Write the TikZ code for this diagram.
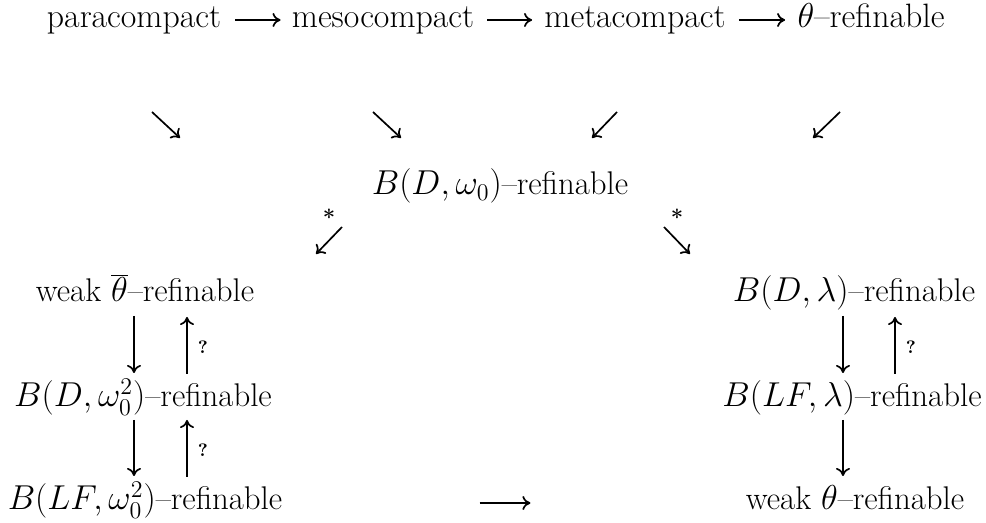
\documentclass[tikz,border=0pt]{standalone}
\usetikzlibrary{arrows.meta}
\tikzset{
  lbl/.style={anchor=base, inner sep=0pt, font=\fontsize{16.4}{20}\selectfont},
  toplbl/.style={anchor=base, inner sep=0pt, font=\fontsize{16.9}{20}\selectfont},
  arr/.style={-{Computer Modern Rightarrow[length=4pt,width=7pt]}, line width=0.85pt},
  note/.style={inner sep=0pt, font=\fontsize{9}{10}\selectfont\bfseries},
  starnote/.style={inner sep=0pt, font=\fontsize{11}{12}\selectfont\bfseries}
}
\begin{document}
\begin{tikzpicture}[x=0.5pt,y=-0.5pt]
\useasboundingbox (0,0) rectangle (986,523);
% top row
\node[toplbl] (para)  at (134,28) {paracompact};
\node[toplbl] (meso)  at (383,28) {mesocompact};
\node[toplbl] (meta)  at (635,28) {metacompact};
\node[toplbl] (theta) at (871,28) {$\theta$--refinable};
\draw[arr] ([shift={(14,-8)}]para.base east) -- ([shift={(-11,-8)}]meso.base west);
\draw[arr] ([shift={(13,-8)}]meso.base east) -- ([shift={(-12,-8)}]meta.base west);
\draw[arr] ([shift={(13,-8)}]meta.base east) -- ([shift={(-12,-8)}]theta.base west);
% middle
\node[lbl] (bdw) at (500,195) {$B(D,\omega_0)$--refinable};
\coordinate (d1s) at (152,112); \coordinate (d1e) at (180,138);
\coordinate (d2s) at (373,112); \coordinate (d2e) at (401,138);
\coordinate (d3s) at (617,112); \coordinate (d3e) at (592,138);
\coordinate (d4s) at (840,112); \coordinate (d4e) at (813,138);
\draw[arr] (d1s) -- (d1e);
\draw[arr] (d2s) -- (d2e);
\draw[arr] (d3s) -- (d3e);
\draw[arr] (d4s) -- (d4e);
% starred arrows
\coordinate (s1s) at (342,227); \coordinate (s1e) at (316,254);
\coordinate (s2s) at (664,227); \coordinate (s2e) at (690,254);
\draw[arr] (s1s) -- (s1e);
\draw[arr] (s2s) -- (s2e);
\node[starnote] (st1) at (329,217) {*};
\node[starnote] (st2) at (677,217) {*};
% left column
\node[lbl] (wtb)  at (145,302) {weak $\overline{\theta}$--refinable};
\node[lbl] (bdw2) at (143,407) {$B(D,\omega_0^2)$--refinable};
\node[lbl] (blf2) at (145,510) {$B(LF,\omega_0^2)$--refinable};
\draw[arr] (134,316) -- (134,373);
\draw[arr] (187,374) -- (187,317);
\node[note] (q1) at (203,347) {?};
\draw[arr] (134,420) -- (134,476);
\draw[arr] (187,477) -- (187,420);
\node[note] (q2) at (203,450) {?};
% right column
\node[lbl] (bdl)  at (854,302) {$B(D,\lambda)$--refinable};
\node[lbl] (blfl) at (852,407) {$B(LF,\lambda)$--refinable};
\node[lbl] (wt)   at (855,510) {weak $\theta$--refinable};
\draw[arr] (843,316) -- (843,373);
\draw[arr] (895,374) -- (895,317);
\node[note] (q3) at (911,347) {?};
\draw[arr] (843,420) -- (843,476);
% bottom
\draw[arr] ([shift={(197,-7)}]blf2.base east) -- ([shift={(-215,-7)}]wt.base west);
\end{tikzpicture}
\end{document}
